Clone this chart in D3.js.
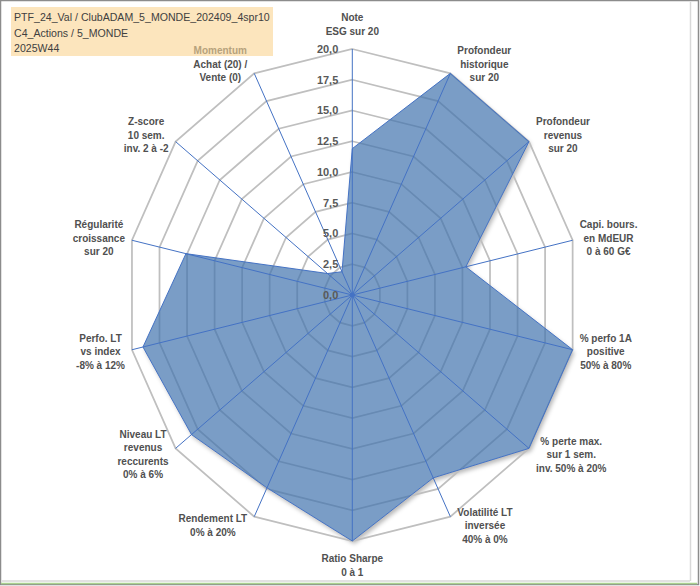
<!DOCTYPE html>
<html><head><meta charset="utf-8">
<script src="https://cdn.jsdelivr.net/npm/d3@7"></script>
<style>html,body{margin:0;padding:0;background:#fff;}svg{display:block;}</style>
</head><body>
<svg id="c" width="700" height="586"></svg>
<script>
// ---- data ----
const titleLines = ["PTF_24_Val / ClubADAM_5_MONDE_202409_4spr10", "C4_Actions / 5_MONDE", "2025W44"];
const categories = [
  "Note\nESG sur 20",
  "Profondeur\nhistorique\nsur 20",
  "Profondeur\nrevenus\nsur 20",
  "Capi. bours.\nen MdEUR\n0 à 60 G€",
  "% perfo 1A\npositive\n50% à 80%",
  "% perte max.\nsur 1 sem.\ninv. 50% à 20%",
  "Volatilité LT\ninversée\n40% à 0%",
  "Ratio Sharpe\n0 à 1",
  "Rendement LT\n0% à 20%",
  "Niveau LT\nrevenus\nreccurents\n0% à 6%",
  "Perfo. LT\nvs index\n-8% à 12%",
  "Régularité\ncroissance\nsur 20",
  "Z-score\n10 sem.\ninv. 2 à -2",
  "Momentum\nAchat (20) /\nVente (0)"
];
const values = [11.9, 20, 20, 10.3, 20, 20, 16.5, 20, 17.4, 18.2, 19.0, 15.1, 2.8, 2.1];
const ticks = [0, 2.5, 5, 7.5, 10, 12.5, 15, 17.5, 20];

// ---- layout ----
const svg = d3.select("#c");
const cx = 352.3, cy = 295;
const rX = d3.scaleLinear().domain([0, 20]).range([0, 226]);
const rY = d3.scaleLinear().domain([0, 20]).range([0, 246]);
const n = categories.length;
const ang = d3.scaleLinear().domain([0, n]).range([0, 2 * Math.PI]);
const pt = (i, v) => [cx + rX(v) * Math.sin(ang(i)), cy - rY(v) * Math.cos(ang(i))];

// frame
svg.append("rect").attr("x", 0.5).attr("y", 0.5).attr("width", 698).attr("height", 584)
  .attr("fill", "#fff").attr("stroke", "#8c8c8c").attr("stroke-width", 1.5);
svg.append("line").attr("x1", 690.5).attr("x2", 690.5).attr("y1", 2).attr("y2", 581)
  .attr("stroke", "#d9d9d9").attr("stroke-width", 1.5);
svg.append("line").attr("x1", 2).attr("x2", 690).attr("y1", 581).attr("y2", 581)
  .attr("stroke", "#d9d9d9").attr("stroke-width", 1.5);
svg.append("line").attr("x1", 1).attr("x2", 697).attr("y1", 583.5).attr("y2", 583.5)
  .attr("stroke", "#a9d18e").attr("stroke-width", 1.5);

const defs = svg.append("defs");
const f = defs.append("filter").attr("id", "blur").attr("x", "-10%").attr("y", "-10%").attr("width", "130%").attr("height", "130%");
f.append("feGaussianBlur").attr("stdDeviation", 2);

const ringLine = d3.line();
const seriesD = ringLine(values.map((v, i) => pt(i, v))) + "Z";

// shadow (outside only)
svg.append("path").attr("d", seriesD).attr("fill", "#000").attr("fill-opacity", 0.28)
  .attr("transform", "translate(2,3)").attr("filter", "url(#blur)");
svg.append("path").attr("d", seriesD).attr("fill", "#fff");

// grid rings
svg.append("g").selectAll("path").data(ticks.slice(1)).join("path")
  .attr("d", t => ringLine(d3.range(n).map(i => pt(i, t))) + "Z")
  .attr("fill", "none").attr("stroke", "#bfbfbf").attr("stroke-width", 1.75);

// series polygon
svg.append("path").attr("d", seriesD)
  .attr("fill", "#4174ae").attr("fill-opacity", 0.7)
  .attr("stroke", "#4472c4").attr("stroke-width", 1);

// spokes
svg.append("g").selectAll("line").data(d3.range(n)).join("line")
  .attr("x1", cx).attr("y1", cy)
  .attr("x2", i => pt(i, 20)[0]).attr("y2", i => pt(i, 20)[1])
  .attr("stroke", "#4472c4").attr("stroke-width", 1);
svg.append("circle").attr("cx", cx).attr("cy", cy).attr("r", 2.2).attr("fill", "#4472c4");

// tick labels
svg.append("g").selectAll("text").data(ticks).join("text")
  .attr("x", cx - 14).attr("y", t => cy - rY(t))
  .attr("dy", "0.36em").attr("text-anchor", "end")
  .attr("font-family", "Liberation Sans, Arial, sans-serif").attr("font-weight", "bold")
  .attr("font-size", 11).attr("fill", "#595959")
  .text(t => d3.format(".1f")(t).replace(".", ","));

// title box
svg.append("rect").attr("x", 11).attr("y", 7).attr("width", 262).attr("height", 49).attr("fill", "#fce5bd");
const tg = svg.append("g").attr("font-family", "Liberation Sans, Arial, sans-serif").attr("font-size", 11.5).attr("fill", "#404040");
const tt = tg.selectAll("text").data(titleLines).join("text")
  .attr("x", 0).attr("y", (d, i) => 21.5 + i * 15.5).text(d => d);
const w0 = tt.nodes()[0].getComputedTextLength();
const sx = 256 / w0;
tg.attr("transform", `translate(14,0) scale(${sx},1)`);

// axis labels
const lh = 13.5;
const lg = svg.append("g").attr("font-family", "Liberation Sans, Arial, sans-serif")
  .attr("font-weight", "bold").attr("font-size", 10).attr("fill", "#505050").attr("text-anchor", "middle");
categories.forEach((c, i) => {
  const lines = c.split("\n");
  const g = lg.append("g");
  const texts = g.selectAll("text").data(lines).join("text")
    .attr("x", 0).attr("y", (d, k) => (k - (lines.length - 1) / 2) * lh).attr("dy", "0.35em")
    .attr("fill", (d, k) => (i === n - 1 && k === 0) ? "#b6a27c" : null)
    .text(d => d);
  const w = d3.max(texts.nodes(), t => t.getComputedTextLength());
  const h = lines.length * lh;
  const a = ang(i), s = Math.sin(a), co = Math.cos(a);
  const [vx, vy] = pt(i, 20);
  let x, y;
  if (Math.abs(s) < 0.01) { x = vx; y = vy - co * (h / 2 + 11); }
  else { x = vx + Math.sign(s) * (w / 2 + 7); y = vy - co * 10; }
  g.attr("transform", `translate(${x},${y})`);
});
</script>
</body></html>
